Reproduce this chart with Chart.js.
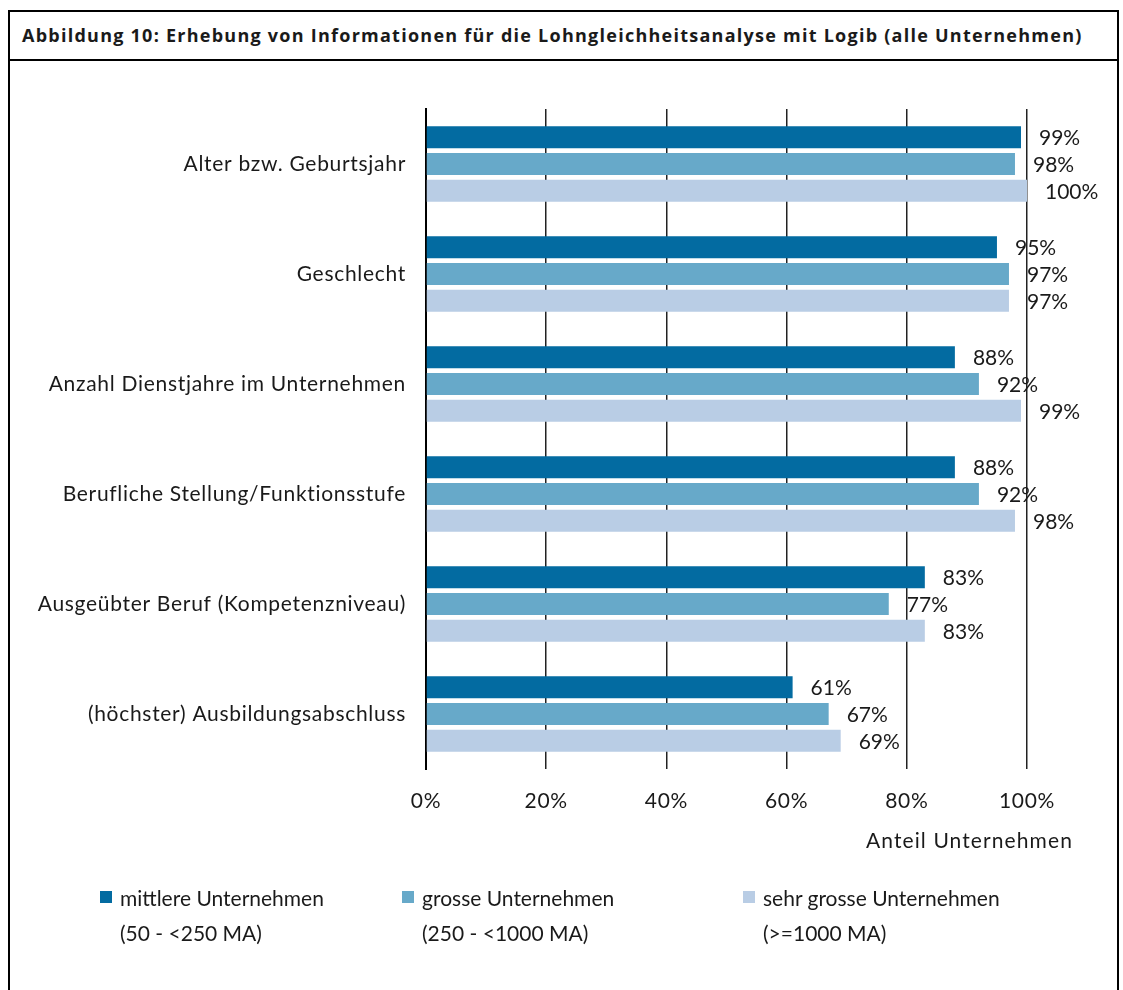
<!DOCTYPE html>
<html lang="de">
<head>
<meta charset="UTF-8">
<title>Abbildung 10</title>
<script src="https://cdn.jsdelivr.net/npm/chart.js@4/dist/chart.umd.min.js"></script>
<style>
    body { margin: 0; background: #fff; font-family: Lato, "Open Sans", sans-serif; color: #1a1a1a; }
    .frame { position: absolute; left: 8px; top: 10px; width: 1107px; height: 1000px; border: 2px solid #000; }
    .title { position: absolute; left: 0; top: 0; right: 0; height: 47px; border-bottom: 2px solid #000;
             font-family: "Open Sans", sans-serif; font-weight: bold; font-size: 18px; line-height: 47px;
             padding-left: 12px; letter-spacing: 1.25px; white-space: nowrap; }
    .wrap { position: absolute; left: 0; top: 0; width: 1123px; height: 990px; }
    .axisTitle { position: absolute; left: 866px; top: 827px; font-size: 21px; letter-spacing: 1.1px; }
    .legItem { position: absolute; top: 880px; font-size: 21px; line-height: 35px; white-space: nowrap; }
    .legItem .sw { position: absolute; left: -20px; top: 11px; width: 12px; height: 12px; }
</style>
</head>
<body>
<div class="frame">
    <div class="title">Abbildung 10: Erhebung von Informationen für die Lohngleichheitsanalyse mit Logib (alle Unternehmen)</div>
</div>
<div class="wrap"><canvas id="chart"></canvas></div>
<div class="axisTitle">Anteil Unternehmen</div>
<div id="legend"></div>
<script>
    // categories (top to bottom)
    const categories = [
        'Alter bzw. Geburtsjahr',
        'Geschlecht',
        'Anzahl Dienstjahre im Unternehmen',
        'Berufliche Stellung/Funktionsstufe',
        'Ausgeübter Beruf (Kompetenzniveau)',
        '(höchster) Ausbildungsabschluss'
    ];
    // series values in percent
    const mittlere = [99, 95, 88, 88, 83, 61];
    const grosse = [98, 97, 92, 92, 77, 67];
    const sehrGrosse = [100, 97, 99, 98, 83, 69];
    const xTicks = [0, 20, 40, 60, 80, 100];

    const seriesNames = [
        ['mittlere Unternehmen', '(50  - <250 MA)'],
        ['grosse Unternehmen', '(250 - <1000 MA)'],
        ['sehr grosse Unternehmen', '(>=1000 MA)']
    ];
    const colors = ['#036ba1', '#67a9c9', '#b9cde5'];

    // a little wider spacing for the axis labels, reset before the bars
    const tickSpacing = {
        id: 'tickSpacing',
        beforeDraw(chart) { chart.ctx.letterSpacing = '0.7px'; },
        beforeDatasetsDraw(chart) { chart.ctx.letterSpacing = '0px'; }
    };

    // value labels right of each bar
    const valueLabels = {
        id: 'valueLabels',
        afterDatasetsDraw(chart) {
            const ctx = chart.ctx;
            ctx.save();
            ctx.font = '21px Lato, sans-serif';
            ctx.fillStyle = '#1a1a1a';
            ctx.textAlign = 'left';
            ctx.textBaseline = 'middle';
            chart.data.datasets.forEach((ds, i) => {
                chart.getDatasetMeta(i).data.forEach((bar, j) => {
                    ctx.fillText(ds.data[j] + '%', bar.x + 18, bar.y + 1);
                });
            });
            ctx.restore();
        }
    };

    new Chart(document.getElementById('chart'), {
        type: 'bar',
        data: {
            labels: categories,
            datasets: [mittlere, grosse, sehrGrosse].map((d, i) => ({
                label: seriesNames[i][0],
                data: d,
                backgroundColor: colors[i],
                categoryPercentage: 0.73,
                barPercentage: 0.82
            }))
        },
        options: {
            indexAxis: 'y',
            responsive: true,
            maintainAspectRatio: false,
            animation: false,
            layout: { padding: { top: 109, right: 96, left: 0, bottom: 0 } },
            plugins: { legend: { display: false }, tooltip: { enabled: false } },
            scales: {
                x: {
                    min: 0, max: 100,
                    afterBuildTicks: s => { s.ticks = xTicks.map(v => ({ value: v })); },
                    afterFit: s => { s.height = 221; },
                    grid: { color: '#222', lineWidth: 1.5, drawTicks: false },
                    border: { display: false },
                    ticks: { padding: 20, color: '#1a1a1a', font: { family: 'Lato', size: 21 }, callback: v => v + '%' }
                },
                y: {
                    afterFit: s => { s.width = 426; },
                    grid: { display: false, drawTicks: false },
                    border: { color: '#000', width: 2 },
                    ticks: { padding: 20, color: '#1a1a1a', font: { family: 'Lato', size: 21 } }
                }
            }
        },
        plugins: [tickSpacing, valueLabels]
    });

    // legend with two-line labels
    const legX = [120, 422, 763];
    document.getElementById('legend').innerHTML = seriesNames.map((n, i) =>
        `<div class="legItem" style="left:${legX[i]}px"><span class="sw" style="background:${colors[i]}"></span>${n[0]}<br>${n[1]}</div>`
    ).join('');
</script>
</body>
</html>
